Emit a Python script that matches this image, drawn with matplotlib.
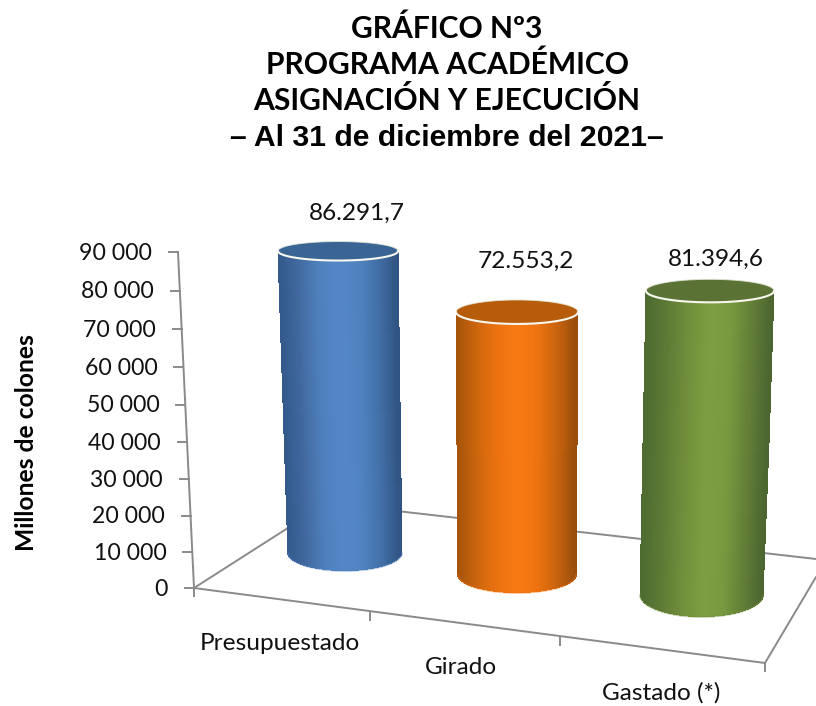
import numpy as np
import matplotlib
matplotlib.use("Agg")
import matplotlib.pyplot as plt
from matplotlib.colors import LinearSegmentedColormap, ListedColormap

# ---- data ----
categories = ["Presupuestado", "Girado", "Gastado (*)"]
values = [86291.7, 72553.2, 81394.6]
value_labels = ["86.291,7", "72.553,2", "81.394,6"]
tick_values = [0, 10000, 20000, 30000, 40000, 50000, 60000, 70000, 80000, 90000]
tick_labels = ["0", "10 000", "20 000", "30 000", "40 000", "50 000", "60 000", "70 000", "80 000", "90 000"]
title_lines = ["GRÁFICO Nº3", "PROGRAMA ACADÉMICO", "ASIGNACIÓN Y EJECUCIÓN"]
title_last = "– Al 31 de diciembre del 2021–"
y_title = "Millones de colones"

# ---- style / geometry of the 3-D scene (pixels) ----
W, H = 816, 706
GREY = "#8a8a8a"
FONT = ["Lato", "DejaVu Sans"]
ramps = [
    ["#33598a", "#41699f", "#4f80bd", "#5587c7", "#5083c0", "#4270a8", "#2f5280"],
    ["#a3530b", "#cc660e", "#ec7210", "#f97a12", "#ef7410", "#c9640e", "#964c0b"],
    ["#4c6a30", "#5d7a35", "#708e3b", "#7d9e40", "#7a9a3f", "#637f37", "#4a6430"],
]
top_colors = ["#3a6494", "#b75c0a", "#5a7334"]
# base centre x, y, radii; depth scale; drift and radius growth at the top
scene = [
    dict(cx=345, cy=553, rx=57.0, ry=18, depth=0.939, drift=-7.0, grow=3.0, ry_top=9.5),
    dict(cx=517, cy=575, rx=59.0, ry=18, depth=0.979, drift=0.0, grow=2.0, ry_top=12.0),
    dict(cx=701.5, cy=595, rx=61.5, ry=22, depth=1.005, drift=8.5, grow=2.5, ry_top=11.5),
]
label_xy = [(356.5, 213), (526, 261.5), (716, 259)]
cat_xy = [(280, 644), (461, 667), (661, 693)]


def wall_height(v):
    """Perspective height in pixels of value v on the back-left wall axis."""
    t = np.asarray(v, dtype=float) / 10000.0
    return 35.84 * t / (1 - 0.00444 * t)


def smooth_cmap(name, stops, width=41):
    """Colormap through the given stops, with the kinks between them smoothed."""
    rgba = LinearSegmentedColormap.from_list(name, stops, N=512)(np.linspace(0, 1, 512))
    pad = width // 2
    kernel = np.ones(width) / width
    out = rgba.copy()
    for c in range(3):
        padded = np.pad(rgba[:, c], pad, mode="edge")
        out[:, c] = np.convolve(padded, kernel, mode="valid")
    return ListedColormap(out, name=name)


fig = plt.figure(figsize=(W / 100, H / 100), dpi=100)
ax = fig.add_axes([0, 0, 1, 1])
ax.set_xlim(0, W)
ax.set_ylim(H, 0)
ax.axis("off")

# floor
AX0 = (194, 588)
LW = 1.4
for p, q in [((194, 588), (327, 503)), ((327, 503), (816, 559)),
             ((194, 588), (765, 663)), ((765, 663), (816, 577))]:
    ax.plot([p[0], q[0]], [p[1], q[1]], color=GREY, lw=LW, zorder=1, solid_capstyle="round")
for x, y in [(194, 588), (370, 612), (560, 637), (765, 663)]:
    ax.plot([x, x], [y, y + 8], color=GREY, lw=LW, zorder=1)

# value axis
vmax = tick_values[-1]
h_top = wall_height(vmax)
axis_x = lambda v: AX0[0] - 16 * wall_height(v) / h_top
axis_y = lambda v: AX0[1] - wall_height(v)
ax.plot([axis_x(0), axis_x(vmax)], [axis_y(0), axis_y(vmax)], color=GREY, lw=LW, zorder=1)
for v, lab in zip(tick_values, tick_labels):
    ax.plot([axis_x(v) - 9, axis_x(v)], [axis_y(v), axis_y(v)], color=GREY, lw=LW, zorder=1)
    ax.text(axis_x(v) - 26, axis_y(v) + 1, lab, ha="right", va="center", fontsize=16.6,
            family=FONT, color="#111111")

# cylinders
u = np.linspace(-1, 1, 361)
for i, (val, sc) in enumerate(zip(values, scene)):
    cmap = smooth_cmap(f"c{i}", ramps[i])
    top_y = sc["cy"] - sc["depth"] * wall_height(val)
    top_x = sc["cx"] + sc["drift"]
    rx_t = sc["rx"] + sc["grow"]
    arc = np.sqrt(1 - u ** 2)
    rows = np.linspace(0, 1, 3)[:, None]
    xt, yt = top_x + rx_t * u, top_y + sc["ry_top"] * arc
    xb, yb = sc["cx"] + sc["rx"] * u, sc["cy"] + sc["ry"] * arc
    X = xt + (xb - xt) * rows
    Y = yt + (yb - yt) * rows
    C = np.tile(((u[:-1] + u[1:]) / 2 + 1) / 2, (2, 1))
    ax.pcolormesh(X, Y, C, cmap=cmap, shading="flat", zorder=3 + i)
    # pale outline of the base
    ax.plot(xb, yb, color=ramps[i][2], lw=1.2, alpha=0.45, zorder=3 + i)
    # top disc
    t = np.linspace(0, 2 * np.pi, 240)
    ax.fill(top_x + rx_t * np.cos(t), top_y + sc["ry_top"] * np.sin(t),
            color=top_colors[i], lw=0, zorder=3.2 + i)
    t_back = np.linspace(np.pi, 2 * np.pi, 120)
    ax.plot(top_x + rx_t * np.cos(t_back), top_y + sc["ry_top"] * np.sin(t_back),
            color="#e4e8d8", lw=0.7, alpha=0.8, zorder=3.3 + i)
    t_front = np.linspace(0, np.pi, 120)
    ax.plot(top_x + rx_t * np.cos(t_front), top_y + sc["ry_top"] * np.sin(t_front),
            color="#f7f7ee", lw=1.5, zorder=3.4 + i, solid_capstyle="round")

# text
for (x, y), lab in zip(label_xy, value_labels):
    ax.text(x, y, lab, ha="center", va="center", fontsize=17.6, family=FONT, color="#111111")
for (x, y), lab in zip(cat_xy, categories):
    ax.text(x, y, lab, ha="center", va="center", fontsize=17.6, family=FONT, color="#111111")
ax.text(27, 443, y_title, rotation=90, ha="center", va="center", fontsize=17.7,
        fontweight="bold", family=FONT, color="black")
for y, line in zip([29, 65, 100], title_lines):
    ax.text(447, y, line, ha="center", va="center", fontsize=21.6, fontweight="bold",
            family=FONT, color="black")
ax.text(447, 138, title_last, ha="center", va="center", fontsize=21.7, fontweight="bold",
        family=["Liberation Sans", "DejaVu Sans"], color="black")

fig.savefig("out.png", dpi=100)
